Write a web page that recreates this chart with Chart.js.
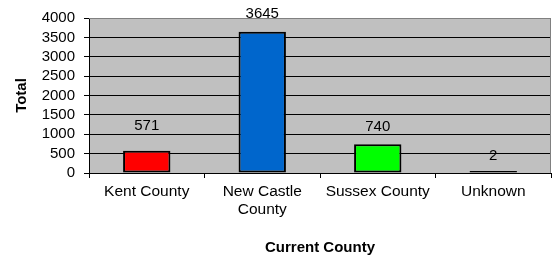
<!DOCTYPE html>
<html>
<head>
<meta charset="utf-8">
<script src="https://cdn.jsdelivr.net/npm/chart.js@4/dist/chart.umd.min.js"></script>
<style>
  body { margin: 0; background: #fff; }
  canvas { display: block; }
</style>
</head>
<body>
<canvas id="myChart" width="552" height="261"></canvas>
<script>
// dados do gráfico
const counties = ['Kent County', ['New Castle', 'County'], 'Sussex County', 'Unknown'];
const totals = [571, 3645, 740, 2];
const yTicks = [0, 500, 1000, 1500, 2000, 2500, 3000, 3500, 4000];

const barColors = ['#ff0000', '#0066cc', '#00ff00', '#000000'];
const labelLift = [25, 18, 17.5, 15];
const fontFam = "'Liberation Sans', Arial, sans-serif";

// fundo cinza da área do gráfico + borda
const plotBg = {
  id: 'plotBg',
  beforeDraw(chart) {
    const { ctx, chartArea: a } = chart;
    ctx.save();
    ctx.fillStyle = '#c0c0c0';
    ctx.fillRect(a.left, a.top, a.right - a.left, a.bottom - a.top);
    ctx.restore();
  },
  afterDatasetsDraw(chart) {
    const { ctx, chartArea: a } = chart;
    ctx.save();
    ctx.strokeStyle = '#808080';
    ctx.lineWidth = 1;
    ctx.beginPath();
    ctx.moveTo(a.left, a.top + 0.5);
    ctx.lineTo(a.right - 0.5, a.top + 0.5);
    ctx.lineTo(a.right - 0.5, a.bottom);
    ctx.stroke();
    ctx.restore();
  }
};

// valores acima das barras
const valueLabels = {
  id: 'valueLabels',
  afterDatasetsDraw(chart) {
    const { ctx } = chart;
    const meta = chart.getDatasetMeta(0);
    ctx.save();
    ctx.font = '15px ' + fontFam;
    ctx.fillStyle = '#000';
    ctx.textAlign = 'center';
    ctx.textBaseline = 'middle';
    meta.data.forEach((bar, i) => {
      ctx.fillText(String(totals[i]), bar.x, bar.y - labelLift[i]);
    });
    ctx.restore();
  }
};

const ctx = document.getElementById('myChart');

new Chart(ctx, {
  type: 'bar',
  data: {
    labels: counties,
    datasets: [{
      label: 'Total',
      data: totals,
      backgroundColor: barColors,
      borderColor: '#000',
      borderWidth: 2,
      borderSkipped: false,
      minBarLength: 2,
      barPercentage: 0.41,
      categoryPercentage: 1
    }]
  },
  options: {
    responsive: false,
    animation: false,
    devicePixelRatio: 1,
    layout: { padding: { top: 12, right: 1, left: 0, bottom: 0 } },
    plugins: {
      legend: { display: false },
      tooltip: { enabled: false }
    },
    scales: {
      x: {
        afterFit(scale) { scale.height = 88; },
        grid: {
          drawOnChartArea: false,
          drawTicks: true,
          tickLength: 5,
          color: '#000',
          offset: true
        },
        border: { color: '#000', width: 1 },
        ticks: {
          color: '#000',
          padding: 5,
          maxRotation: 0,
          autoSkip: false,
          font: { family: fontFam, size: 15.5, lineHeight: 1.13 }
        },
        title: {
          display: true,
          text: 'Current County',
          color: '#000',
          padding: { top: 0, bottom: 4 },
          font: { family: fontFam, size: 15, weight: 'bold', lineHeight: 1.2 }
        }
      },
      y: {
        min: 0,
        max: 4000,
        afterFit(scale) { scale.width = 89; },
        afterBuildTicks(scale) { scale.ticks = yTicks.map(v => ({ value: v })); },
        grid: {
          color: c => (c.tick && c.tick.value === 4000 ? '#808080' : '#000'),
          tickColor: '#000',
          tickLength: 5,
          drawTicks: true
        },
        border: { color: '#000', width: 1 },
        ticks: {
          color: '#000',
          padding: 9,
          autoSkip: false,
          callback: v => String(v),
          font: { family: fontFam, size: 15 }
        },
        title: {
          display: true,
          text: 'Total',
          color: '#000',
          padding: { top: 13, bottom: 0 },
          font: { family: fontFam, size: 15, weight: 'bold', lineHeight: 1.2 }
        }
      }
    }
  },
  plugins: [plotBg, valueLabels]
});
</script>
</body>
</html>
